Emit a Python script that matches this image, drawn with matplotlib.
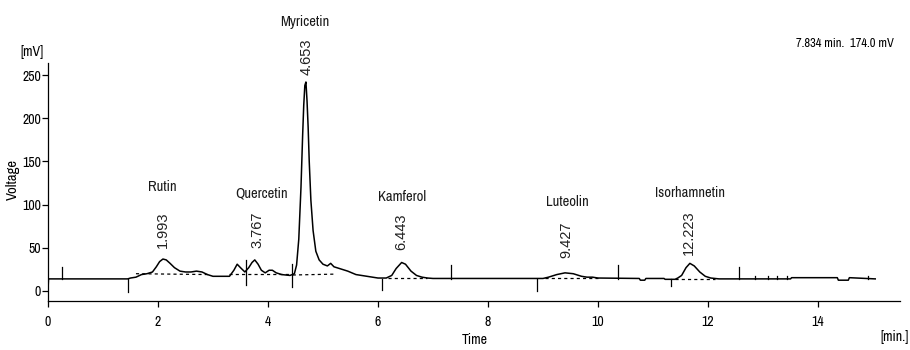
import matplotlib
matplotlib.use("Agg")
import matplotlib.pyplot as plt
from matplotlib import font_manager

names = {f.name for f in font_manager.fontManager.ttflist}
NARROW = next((n for n in ['Liberation Sans Narrow', 'Archivo Narrow', 'Roboto Condensed', 'PT Sans Narrow'] if n in names), 'DejaVu Sans')
REG = 'Liberation Sans'

# chromatogram trace (time [min], voltage [mV])
time = [0.0, 0.01, 1.45, 1.5, 1.6, 1.7, 1.8, 1.9, 1.97, 2.03, 2.09, 2.15, 2.22, 2.3, 2.4, 2.5, 2.6,
        2.7, 2.8, 2.9, 3.0, 3.3, 3.38, 3.44, 3.5, 3.58, 3.65, 3.71, 3.76, 3.82, 3.88, 3.95, 4.02,
        4.08, 4.15, 4.25, 4.4, 4.48, 4.52, 4.56, 4.6, 4.63, 4.65, 4.67, 4.69, 4.71, 4.73, 4.75,
        4.78, 4.82, 4.87, 4.93, 5.0, 5.08, 5.14, 5.2, 5.3, 5.45, 5.6, 5.8, 6.0, 6.15, 6.25, 6.33,
        6.43, 6.5, 6.6, 6.7, 6.8, 6.9, 7.0, 9.0, 9.1, 9.25, 9.4, 9.55, 9.7, 9.8, 9.9, 10.0, 10.75,
        10.77, 10.85, 10.87, 11.2, 11.22, 11.4, 11.45, 11.52, 11.6, 11.67, 11.75, 11.85, 11.95,
        12.05, 12.2, 13.5, 13.52, 14.35, 14.37, 14.55, 14.57, 15.04]
voltage = [0, 14, 14, 15, 16, 19, 20, 22, 28, 34, 37, 36, 32, 27, 23, 22, 22,
           23, 22, 19, 17, 17, 24, 31, 27, 22, 27, 33, 36, 31, 24, 21, 24,
           24, 21, 19, 18, 20, 30, 60, 120, 180, 215, 238, 242, 220, 190, 150,
           105, 70, 46, 36, 31, 29, 32, 28, 26, 23, 19, 17, 15, 15, 18, 26,
           33, 31, 23, 18, 16, 15, 14.5, 14.5, 16, 19, 21, 20, 17, 16, 16, 15, 14.5,
           12.5, 12.5, 14.5, 14.5, 13.5, 13.5, 15, 18, 27, 32, 29, 22, 17,
           15, 14, 14, 15.4, 15.4, 12.5, 12.5, 15.4, 14]

# dashed integration baselines: (t_start, v_start, t_end, v_end)
base_t0 = [1.6, 3.3, 4.45, 6.18, 9.04, 11.4]
base_v0 = [20, 19.5, 18.5, 14.7, 14.5, 14]
base_t1 = [2.95, 4.45, 5.2, 6.9, 10.0, 12.13]
base_v1 = [19, 19.5, 19.5, 14.7, 14.5, 14]

# event markers: time, low, high
mark_t = [0.25, 1.45, 3.6, 4.44, 6.08, 7.33, 8.89, 10.37, 11.32, 12.56, 12.85, 13.09, 13.25, 13.44, 14.9]
mark_lo = [14, -1, 7, 5, 1, 14, 0, 14, 6, 14, 14, 14, 14, 14, 14]
mark_hi = [28, 14, 36, 31, 14, 30, 14, 30, 14, 28, 17, 17, 17, 17, 17]

# peak annotations
peak_names = ['Rutin', 'Quercetin', 'Myricetin', 'Kamferol', 'Luteolin', 'Isorhamnetin']
name_t = [2.07, 3.89, 4.67, 6.44, 9.44, 11.67]
name_v = [120, 113, 311, 109, 103, 113]
rt_labels = ['1.993', '3.767', '4.653', '6.443', '9.427', '12.223']
rt_t = [2.09, 3.8, 4.71, 6.43, 9.43, 11.65]
rt_v = [50, 50, 250, 47, 38, 42]

xticks = [0, 2, 4, 6, 8, 10, 12, 14]
yticks = [0, 50, 100, 150, 200, 250]

fig = plt.figure(figsize=(9.1, 3.5), dpi=100)
ax = fig.add_axes([0.0527, 0.14, 0.9363, 0.68])
ax.set_xlim(0, 15.49)
ax.set_ylim(-11.6, 264)

ax.plot(time, voltage, color='black', lw=1.1, solid_joinstyle='round')
for a, b, c, d in zip(base_t0, base_v0, base_t1, base_v1):
    ax.plot([a, c], [b, d], color='black', lw=0.9, ls=(0, (2.5, 2.5)))
for t, lo, hi in zip(mark_t, mark_lo, mark_hi):
    ax.plot([t, t], [lo, hi], color='black', lw=0.9)

for n, t, v in zip(peak_names, name_t, name_v):
    ax.text(t, v, n, ha='center', va='center', fontsize=10.5, family=NARROW, color='#1a1a1a', clip_on=False)
for s, t, v in zip(rt_labels, rt_t, rt_v):
    ax.text(t, v, s, ha='center', va='bottom', rotation=90, fontsize=10.5, family=REG, color='#222222', clip_on=False)

for sp in ['top', 'right']:
    ax.spines[sp].set_visible(False)
ax.spines['left'].set_linewidth(0.9)
ax.spines['bottom'].set_linewidth(0.9)
ax.set_xticks(xticks)
ax.set_yticks(yticks)
ax.tick_params(axis='both', direction='out', length=4, width=0.9, labelsize=10)
ax.tick_params(axis='x', pad=6)
ax.tick_params(axis='y', pad=1)
for lab in ax.get_xticklabels() + ax.get_yticklabels():
    lab.set_family(NARROW)

fig.text(0.035, 0.851, '[mV]', ha='center', va='center', fontsize=10, family=NARROW)
fig.text(0.0143, 0.486, 'Voltage', ha='center', va='center', rotation=90, fontsize=10.5, family=NARROW)
fig.text(0.522, 0.029, 'Time', ha='center', va='center', fontsize=10, family=NARROW)
fig.text(0.999, 0.037, '[min.]', ha='right', va='center', fontsize=10, family=NARROW)
fig.text(0.928, 0.877, '7.834 min.  174.0 mV', ha='center', va='center', fontsize=9, family=NARROW)

fig.savefig('out.png', dpi=100)
